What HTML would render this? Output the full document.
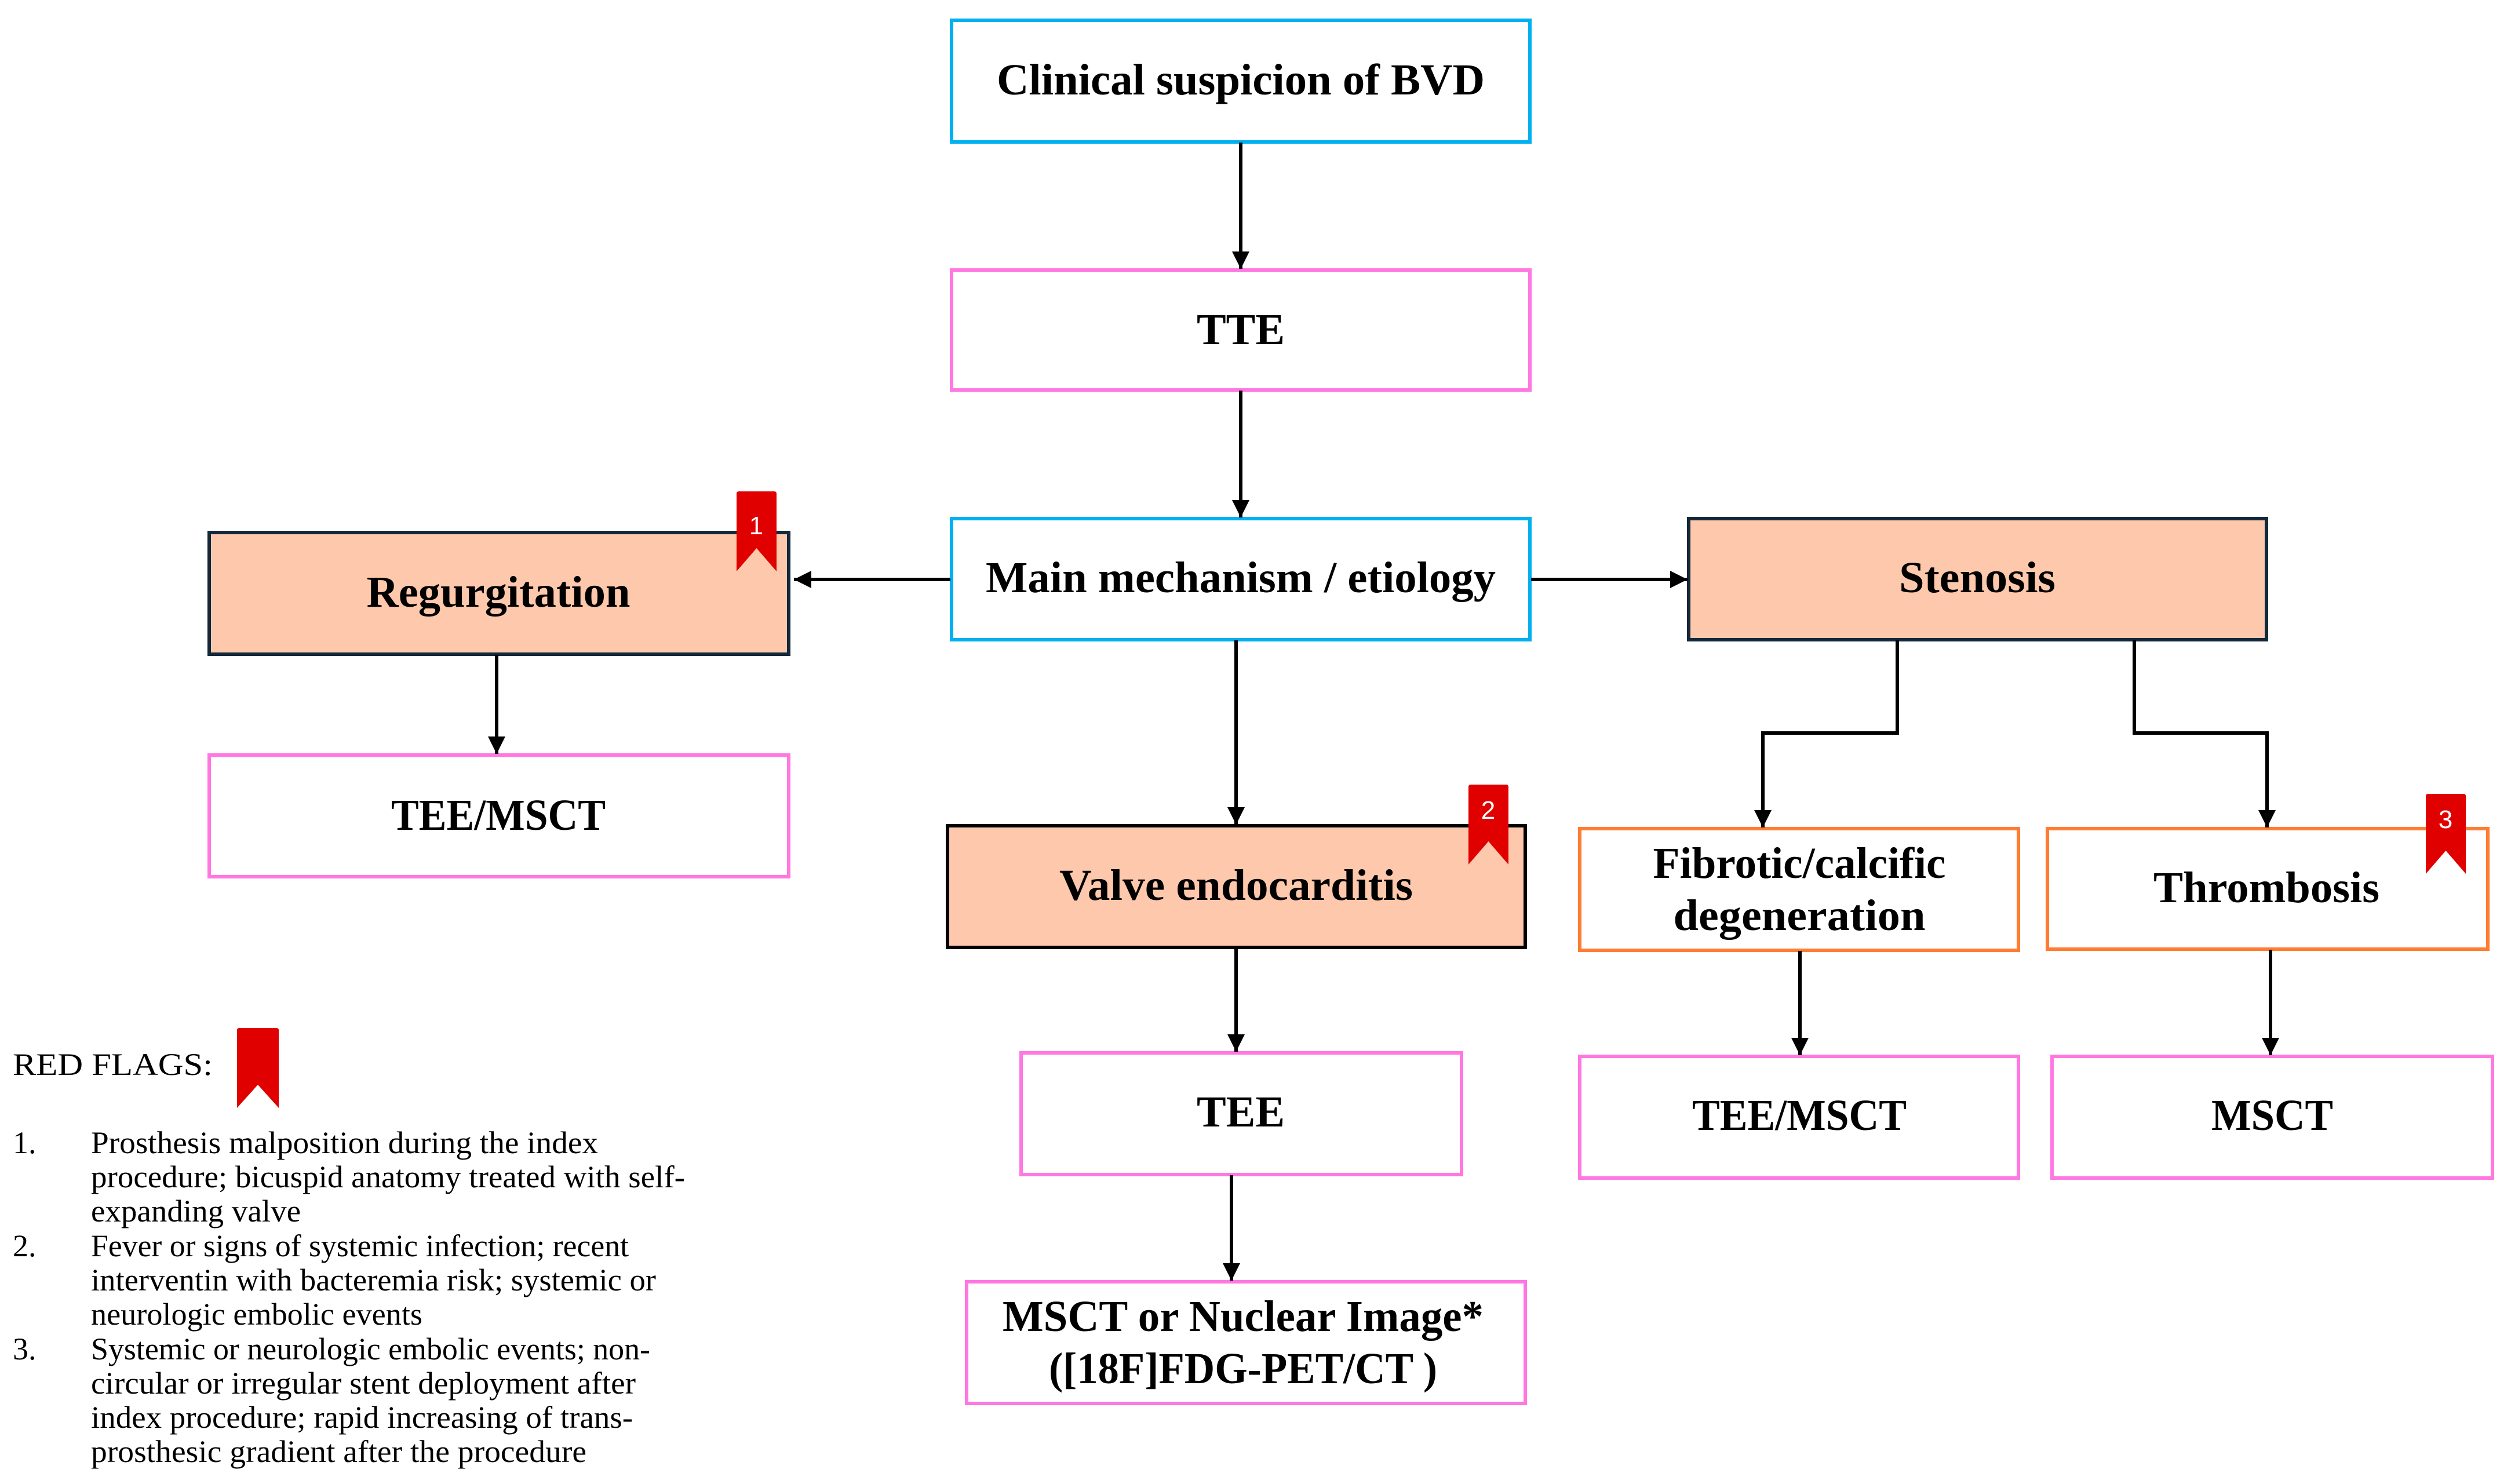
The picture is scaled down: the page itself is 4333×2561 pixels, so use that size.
<!DOCTYPE html>
<html><head><meta charset="utf-8"><style>
html,body{margin:0;padding:0;background:#fff}
svg{display:block}
.b{font-family:"Liberation Serif",serif;font-weight:bold;font-size:76px;fill:#000}
.r{font-family:"Liberation Serif",serif;font-size:54px;fill:#000}
.n{font-family:"Liberation Sans",sans-serif;font-size:44px;fill:#fff}
</style></head><body>
<svg width="4333" height="2561" viewBox="0 0 4333 2561" xmlns="http://www.w3.org/2000/svg">
<defs>
<marker id="a" viewBox="0 0 10 10" refX="10" refY="5" markerWidth="5" markerHeight="5" markerUnits="strokeWidth" orient="auto"><path d="M0,0 L10,5 L0,10 z" fill="#000"/></marker>
</defs>
<g fill="none" stroke-width="6">
<rect x="1642" y="35" width="998" height="210" stroke="#00b0f0"/>
<rect x="1642" y="466" width="998" height="207" stroke="#ff77e0"/>
<rect x="1642" y="895" width="998" height="209" stroke="#00b0f0"/>
<rect x="361" y="919" width="1000" height="210" stroke="#13283a" fill="#fdc8ab"/>
<rect x="361" y="1303" width="1000" height="210" stroke="#ff77e0"/>
<rect x="2914" y="895" width="997" height="209" stroke="#13283a" fill="#fdc8ab"/>
<rect x="1635" y="1425" width="997" height="210" stroke="#000" fill="#fdc8ab"/>
<rect x="2726" y="1430" width="757" height="210" stroke="#ff7d33"/>
<rect x="3533" y="1430" width="760" height="208" stroke="#ff7d33"/>
<rect x="1762" y="1817" width="760" height="210" stroke="#ff77e0"/>
<rect x="2726" y="1823" width="757" height="210" stroke="#ff77e0"/>
<rect x="3541" y="1823" width="760" height="210" stroke="#ff77e0"/>
<rect x="1668" y="2212" width="964" height="210" stroke="#ff77e0"/>
</g>
<g stroke="#000" stroke-width="6" fill="none" marker-end="url(#a)">
<line x1="2141" y1="246" x2="2141" y2="464"/>
<line x1="2141" y1="674" x2="2141" y2="893"/>
<line x1="1640" y1="1000" x2="1370" y2="1000"/>
<line x1="2642" y1="1000" x2="2912" y2="1000"/>
<line x1="2133" y1="1105" x2="2133" y2="1423"/>
<line x1="857" y1="1130" x2="857" y2="1301"/>
<polyline points="3274,1105 3274,1265 3042,1265 3042,1428"/>
<polyline points="3683,1105 3683,1265 3912,1265 3912,1428"/>
<line x1="3106" y1="1641" x2="3106" y2="1821"/>
<line x1="3918" y1="1639" x2="3918" y2="1821"/>
<line x1="2133" y1="1636" x2="2133" y2="1815"/>
<line x1="2125" y1="2028" x2="2125" y2="2210"/>
</g>
<g fill="#e00000">
<path d="M1271,852 q0,-4 4,-4 h61 q4,0 4,4 v134 l-34.5,-40 l-34.5,40 z"/>
<path d="M2534,1358 q0,-4 4,-4 h61 q4,0 4,4 v134 l-34.5,-40 l-34.5,40 z"/>
<path d="M4186,1374 q0,-4 4,-4 h61 q4,0 4,4 v134 l-34.5,-40 l-34.5,40 z"/>
<path d="M409,1778 q0,-4 4,-4 h64 q4,0 4,4 v134 l-36,-40 l-36,40 z"/>
</g>
<text class="n" x="1305" y="922" text-anchor="middle">1</text>
<text class="n" x="2568" y="1413" text-anchor="middle">2</text>
<text class="n" x="4220" y="1429" text-anchor="middle">3</text>
<g class="b" text-anchor="middle">
<text x="2141" y="163" textLength="842" lengthAdjust="spacingAndGlyphs">Clinical suspicion of BVD</text>
<text x="2141" y="594">TTE</text>
<text x="2141" y="1022" textLength="880" lengthAdjust="spacingAndGlyphs">Main mechanism / etiology</text>
<text x="860" y="1047" textLength="455" lengthAdjust="spacingAndGlyphs">Regurgitation</text>
<text x="860" y="1432" textLength="370" lengthAdjust="spacingAndGlyphs">TEE/MSCT</text>
<text x="3412" y="1022" textLength="270" lengthAdjust="spacingAndGlyphs">Stenosis</text>
<text x="2133" y="1553" textLength="610" lengthAdjust="spacingAndGlyphs">Valve endocarditis</text>
<text x="3105" y="1515" textLength="505" lengthAdjust="spacingAndGlyphs">Fibrotic/calcific</text>
<text x="3105" y="1605" textLength="435" lengthAdjust="spacingAndGlyphs">degeneration</text>
<text x="3911" y="1557" textLength="390" lengthAdjust="spacingAndGlyphs">Thrombosis</text>
<text x="2141" y="1944">TEE</text>
<text x="3105" y="1950" textLength="370" lengthAdjust="spacingAndGlyphs">TEE/MSCT</text>
<text x="3921" y="1950" textLength="210" lengthAdjust="spacingAndGlyphs">MSCT</text>
<text x="2145" y="2297" textLength="830" lengthAdjust="spacingAndGlyphs">MSCT or Nuclear Image*</text>
<text x="2145" y="2387" textLength="670" lengthAdjust="spacingAndGlyphs">([18F]FDG-PET/CT )</text>
</g>
<g class="r">
<text x="22" y="1855" textLength="345" lengthAdjust="spacingAndGlyphs">RED FLAGS:</text>
<text x="22" y="1990">1.</text>
<text x="157" y="1990" textLength="875" lengthAdjust="spacingAndGlyphs">Prosthesis malposition during the index</text>
<text x="157" y="2049" textLength="1025" lengthAdjust="spacingAndGlyphs">procedure; bicuspid anatomy treated with self-</text>
<text x="157" y="2108" textLength="362" lengthAdjust="spacingAndGlyphs">expanding valve</text>
<text x="22" y="2168">2.</text>
<text x="157" y="2168" textLength="928" lengthAdjust="spacingAndGlyphs">Fever or signs of systemic infection; recent</text>
<text x="157" y="2227" textLength="975" lengthAdjust="spacingAndGlyphs">interventin with bacteremia risk; systemic or</text>
<text x="157" y="2286" textLength="572" lengthAdjust="spacingAndGlyphs">neurologic embolic events</text>
<text x="22" y="2346">3.</text>
<text x="157" y="2346" textLength="965" lengthAdjust="spacingAndGlyphs">Systemic or neurologic embolic events; non-</text>
<text x="157" y="2405" textLength="940" lengthAdjust="spacingAndGlyphs">circular or irregular stent deployment after</text>
<text x="157" y="2464" textLength="935" lengthAdjust="spacingAndGlyphs">index procedure; rapid increasing of trans-</text>
<text x="157" y="2523" textLength="855" lengthAdjust="spacingAndGlyphs">prosthesic gradient after the procedure</text>
</g>
</svg>
</body></html>
